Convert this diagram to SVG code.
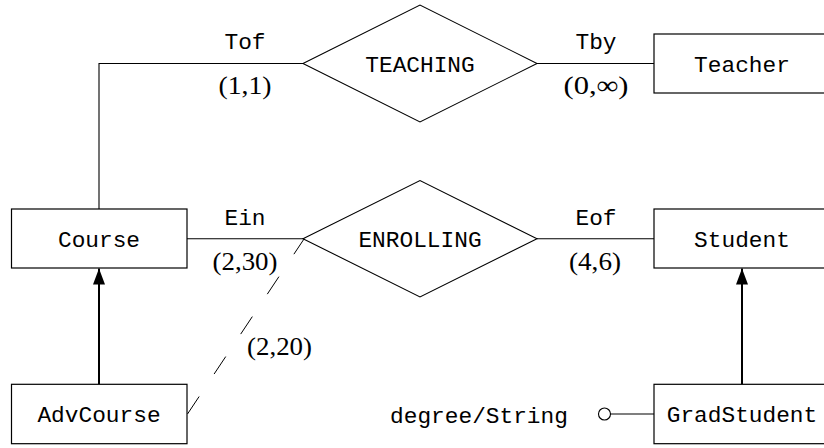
<svg xmlns="http://www.w3.org/2000/svg" width="824" height="448" viewBox="0 0 824 448">
<defs>
<style>
.box{fill:#fff;stroke:#000;stroke-width:1.2}
.dia{fill:#fff;stroke:#000;stroke-width:1.1}
.ln{fill:none;stroke:#000;stroke-width:1.1}
.isa{fill:none;stroke:#000;stroke-width:2}
.dash{fill:none;stroke:#000;stroke-width:1;stroke-dasharray:21 27}
.tt{font-family:"Liberation Mono","DejaVu Sans Mono",monospace;font-size:22.8px;text-anchor:middle;fill:#000}
.rm{font-family:"Liberation Serif","DejaVu Serif",serif;font-size:26px;text-anchor:middle;fill:#000}
</style>
<marker id="ah" viewBox="0 0 16 12" refX="16" refY="6" markerWidth="16" markerHeight="12" markerUnits="userSpaceOnUse" orient="auto">
<path d="M0,0 L16,6 L0,12 z" fill="#000"/>
</marker>
</defs>
<g id="connectors">
<polyline class="ln" points="99,209 99,63.5 303,63.5"/>
<line class="ln" x1="537" y1="63.5" x2="654" y2="63.5"/>
<line class="ln" x1="187" y1="238.7" x2="303" y2="238.7"/>
<line class="ln" x1="537" y1="238.7" x2="654" y2="238.7"/>
<line class="isa" x1="99" y1="384" x2="99" y2="268.5" marker-end="url(#ah)"/>
<line class="isa" x1="742" y1="384" x2="742" y2="268.5" marker-end="url(#ah)"/>
<line class="dash" x1="187.5" y1="414" x2="304" y2="239"/>
<line class="ln" x1="610.5" y1="414" x2="654" y2="414"/>
<circle cx="604.5" cy="414" r="6" fill="#fff" stroke="#000" stroke-width="1.1"/>
<text class="tt" x="245" y="49">Tof</text>
<text class="rm" x="245" y="94" textLength="53" lengthAdjust="spacingAndGlyphs">(1,1)</text>
<text class="tt" x="596" y="49">Tby</text>
<text class="rm" x="596" y="94" textLength="65" lengthAdjust="spacingAndGlyphs">(0,∞)</text>
<text class="tt" x="245" y="225">Ein</text>
<text class="rm" x="245" y="270" textLength="65" lengthAdjust="spacingAndGlyphs">(2,30)</text>
<text class="tt" x="596" y="225">Eof</text>
<text class="rm" x="595" y="270" textLength="52" lengthAdjust="spacingAndGlyphs">(4,6)</text>
<text class="rm" x="279.5" y="355" textLength="65" lengthAdjust="spacingAndGlyphs">(2,20)</text>
<text class="tt" x="479" y="423">degree/String</text>
</g>
<g id="teaching">
<polygon class="dia" points="303,63.5 420,5 537,63.5 420,122"/>
<text class="tt" x="420" y="71.5">TEACHING</text>
</g>
<g id="enrolling">
<polygon class="dia" points="303,238.7 420,180.5 537,238.7 420,297"/>
<text class="tt" x="420" y="247">ENROLLING</text>
</g>
<g id="course">
<rect class="box" x="11.5" y="209" width="175.5" height="59"/>
<text class="tt" x="99" y="247">Course</text>
</g>
<g id="advcourse">
<rect class="box" x="11.5" y="384.3" width="175.5" height="59.4"/>
<text class="tt" x="99" y="422">AdvCourse</text>
</g>
<g id="teacher">
<rect class="box" x="654" y="34" width="176" height="59"/>
<text class="tt" x="742" y="72">Teacher</text>
</g>
<g id="student">
<rect class="box" x="654" y="209" width="176" height="59"/>
<text class="tt" x="742" y="247">Student</text>
</g>
<g id="gradstudent">
<rect class="box" x="654" y="384.3" width="176" height="59.4"/>
<text class="tt" x="742" y="422">GradStudent</text>
</g>
</svg>
